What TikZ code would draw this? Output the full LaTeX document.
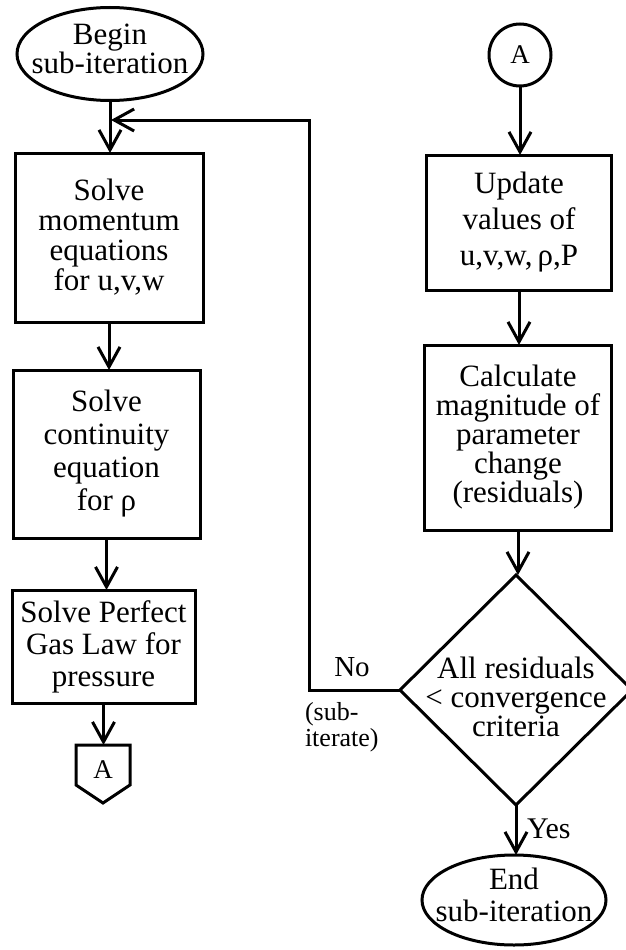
\documentclass[tikz,border=0pt]{standalone}
\usepackage{fontspec}
\setmainfont{Liberation Serif}
\usetikzlibrary{shapes.geometric,arrows.meta,calc}
\begin{document}
\begin{tikzpicture}[x=1pt,y=-1pt,
  line width=3pt,
  every node/.style={inner sep=0pt, outer sep=0pt},
  tip/.style={-{Straight Barb[length=20pt,width=22pt,line width=3pt]}},
  flowbox/.style={draw, rectangle, align=center},
  term/.style={draw, ellipse},
  txt/.style={align=center, font=\fontsize{31}{#1}\selectfont},
]
\useasboundingbox (0,0) rectangle (626,950);

% left column
\node[term, minimum width=186, minimum height=93] (begin) at (110,54) {};
\node[txt=28] (begint) at (110,49) {Begin\\sub-iteration};
\node[flowbox, txt=30, minimum width=188, minimum height=169] (b1) at (109,237.5)
  {Solve\\momentum\\equations\\for u,v,w};
\node[flowbox, txt=33, minimum width=187, minimum height=168] (b2) at (106.5,454)
  {Solve\\continuity\\equation\\for ρ};
\node[flowbox, txt=32, minimum width=183, minimum height=113] (b3) at (103.5,646.5)
  {Solve Perfect\\Gas Law for\\pressure};
\node[minimum width=54, minimum height=58] (pA) at (103,774) {};
\draw (pA.north west) -- (pA.north east) -- ++(0,40) -- (pA.south) -- ($(pA.north west)+(0,40)$) -- cycle;
\node[font=\fontsize{27}{27}\selectfont] (pAt) at (103,770) {A};

% right column
\node[draw, circle, minimum size=62, font=\fontsize{27}{27}\selectfont] (cA) at (520,55) {A};
\node[flowbox, txt=36, minimum width=185, minimum height=135] (upd) at (519,222.5)
  {Update\\values of\\u,v,w,\,ρ,P};
\node[flowbox, txt=29, minimum width=187, minimum height=185] (calc) at (518,437.5)
  {Calculate\\magnitude of\\parameter\\change\\(residuals)};
\node[draw, diamond, minimum width=232, minimum height=230] (dec) at (516,690) {};
\node[txt=29] (dect) at (516,697) {All residuals\\< convergence\\criteria};
\node[term, minimum width=184, minimum height=90] (end) at (514,900) {};
\node[txt=32] (endt) at (514,895) {End\\sub-iteration};

% labels
\node[font=\fontsize{29}{29}\selectfont] (no) at (352,667) {No};
\node[anchor=north west, align=left, font=\fontsize{26}{26}\selectfont] (subit) at (305,702) {(sub-\\iterate)};
\node[anchor=base west, font=\fontsize{30}{30}\selectfont] (yes) at (527,838) {Yes};

% connectors
\draw[tip] (begin.south) -- (begin.south |- b1.north);
\draw[tip] (b1.south) -- (b1.south |- b2.north);
\draw[tip] (b2.south) -- (b2.south |- b3.north);
\draw[tip] (b3.south) -- (b3.south |- pA.north);
\draw[tip] (cA.south) -- (cA.south |- upd.north);
\draw[tip] (upd.south) -- (upd.south |- calc.north);
\draw[tip] (calc.south) -- (calc.south |- dec.north);
\draw[tip] (dec.south) -- (dec.south |- end.north);
\coordinate (fb) at (309,120);
\coordinate (join) at (begin.south |- fb);
\draw[tip, shorten >=1pt] (dec.west) -| (fb) -- (join);
\end{tikzpicture}
\end{document}
